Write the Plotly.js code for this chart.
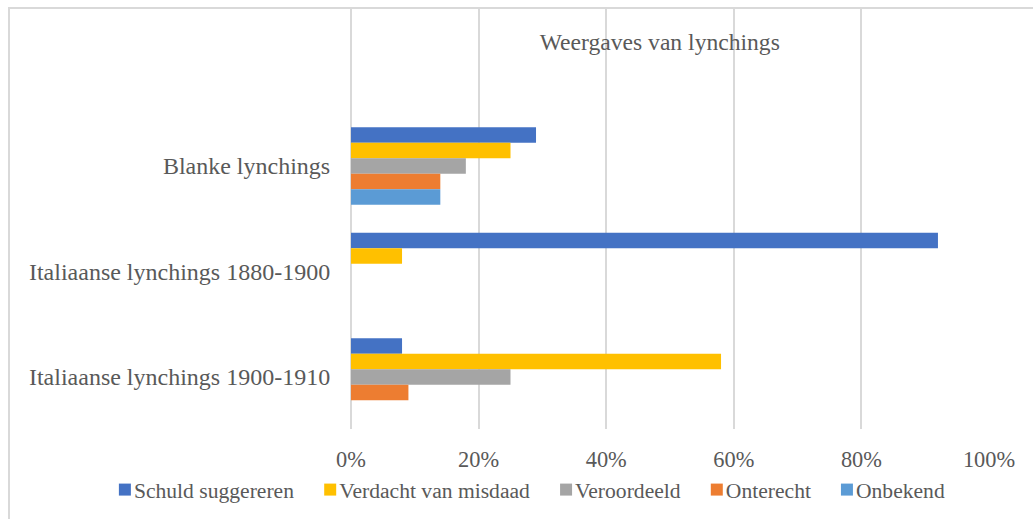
<!DOCTYPE html>
<html>
<head>
<meta charset="utf-8">
<script src="https://cdn.plot.ly/plotly-3.0.1.min.js"></script>
<style>
  html, body { margin: 0; padding: 0; background: #ffffff; overflow: hidden; }
  #frame { position: absolute; left: 8px; top: 7px; width: 1100px; height: 600px; border: 2px solid #d9d9d9; box-sizing: border-box; }
  #chart { position: absolute; left: 0; top: 0; width: 1033px; height: 519px; }
</style>
</head>
<body>
<div id="frame"></div>
<div id="chart"></div>
<script>
// Data (percentages)
const categories = ["Blanke lynchings", "Italiaanse lynchings 1880-1900", "Italiaanse lynchings 1900-1910"];
const seriesNames = ["Schuld suggereren", "Verdacht van misdaad", "Veroordeeld", "Onterecht", "Onbekend"];
const schuldSuggereren   = [29, 92, 8];
const verdachtVanMisdaad = [25, 8, 58];
const veroordeeld        = [18, 0, 25];
const onterecht          = [14, 0, 9];
const onbekend           = [14, 0, 0];
const xTickValues = [0, 20, 40, 60, 80, 100];

const seriesValues = [schuldSuggereren, verdachtVanMisdaad, veroordeeld, onterecht, onbekend];
const colors = ["#4472C4", "#FFC000", "#A5A5A5", "#ED7D31", "#5B9BD5"];

const FONT = "'Liberation Serif', 'Times New Roman', serif";
const TXT = "#595959";

const traces = seriesNames.map((name, i) => ({
  type: "bar",
  orientation: "h",
  name: name,
  y: categories,
  x: seriesValues[i],
  marker: { color: colors[i], line: { width: 0 } },
  hovertemplate: "%{y}: %{x}%<extra>" + name + "</extra>"
}));

const layout = {
  width: 1033,
  height: 519,
  margin: { l: 351, r: 44, t: 8, b: 90 },
  paper_bgcolor: "rgba(0,0,0,0)",
  plot_bgcolor: "rgba(0,0,0,0)",
  barmode: "group",
  bargap: 0.266,
  bargroupgap: 0,
  title: {
    text: "Weergaves van lynchings",
    font: { family: FONT, size: 23.6, color: TXT },
    xref: "paper", x: 0.484, xanchor: "center",
    yref: "container", y: 1 - 42 / 519, yanchor: "middle"
  },
  xaxis: {
    range: [0, 100],
    tickvals: xTickValues,
    ticktext: xTickValues.map(v => v + "%"),
    showgrid: true,
    gridcolor: "#d9d9d9",
    gridwidth: 2,
    zeroline: true,
    zerolinecolor: "#d9d9d9",
    zerolinewidth: 2,
    showline: false,
    ticks: "outside",
    ticklen: 10,
    tickcolor: "rgba(0,0,0,0)",
    tickfont: { family: FONT, size: 22.4, color: TXT },
    fixedrange: true
  },
  yaxis: {
    type: "category",
    categoryorder: "array",
    categoryarray: categories,
    range: [2.493, -1.498],
    showgrid: false,
    zeroline: false,
    showline: false,
    ticks: "outside",
    ticklen: 15,
    tickcolor: "rgba(0,0,0,0)",
    tickfont: { family: FONT, size: 24, color: TXT },
    fixedrange: true
  },
  showlegend: true,
  legend: {
    orientation: "h",
    x: -0.403, xanchor: "left",
    y: -0.145, yanchor: "middle",
    font: { family: FONT, size: 21.6, color: TXT },
    bgcolor: "rgba(0,0,0,0)",
    traceorder: "normal"
  }
};

Plotly.newPlot("chart", traces, layout, { displayModeBar: false }).then(gd => {
  // Move the legend swatches closer to their labels, as in the reference
  gd.querySelectorAll(".legend .legendpoints").forEach(g => g.setAttribute("transform", "translate(11,0)"));
});
</script>
</body>
</html>
